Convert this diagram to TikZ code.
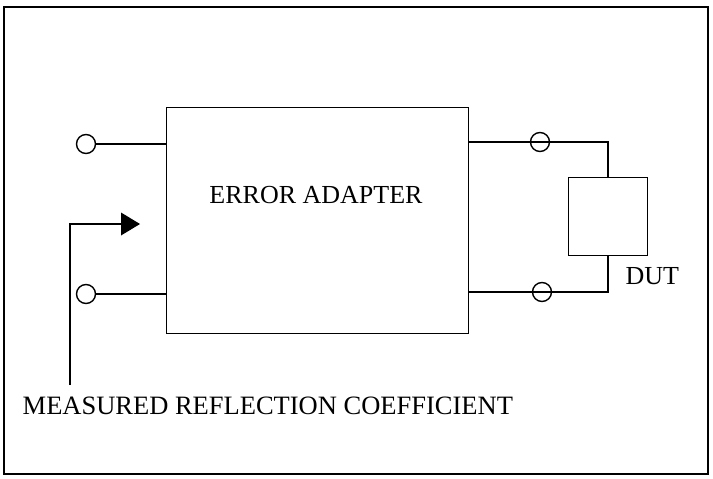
\documentclass[tikz,border=0pt]{standalone}
\usepackage{fontspec}
\setmainfont{Liberation Serif}
\usetikzlibrary{calc}
\begin{document}
\begin{tikzpicture}[x=1pt,y=-1pt,line width=1.4pt,
  term/.style={circle,draw,minimum size=19pt,inner sep=0pt},
  blk/.style={draw,inner sep=0pt,anchor=north west},
  lbl/.style={font=\fontsize{26}{30}\selectfont,inner sep=0pt,anchor=base west}]
\useasboundingbox (0,0) rectangle (713,479);
% outer frame
\draw[line width=2.6pt] (4,7) rectangle (708,474);
% error adapter block
\node[blk,minimum width=302pt,minimum height=226pt] (adapter) at (166,107) {};
\node[lbl,anchor=base] (adtext) at (316,203) {ERROR ADAPTER};
% input terminals
\node[term] (in1) at (86,144) {};
\node[term] (in2) at (86,294) {};
\draw (in1.east) -- (in1.east -| adapter.west);
\draw (in2.east) -- (in2.east -| adapter.west);
% device under test
\node[blk,minimum width=79pt,minimum height=78pt] (dut) at (568,177) {};
\node[lbl] (duttext) at (625,284) {DUT};
\coordinate (r1) at (608,142);
\coordinate (r2) at (608,292);
\draw (r1 -| adapter.east) -- (r1) -- (r1 |- dut.north);
\draw (r2 -| adapter.east) -- (r2) -- (r2 |- dut.south);
% output terminals on the wires
\node[term] (out1) at (540,142) {};
\node[term] (out2) at (542,292) {};
% measured reflection coefficient pointer
\coordinate (mtop) at (70,224);
\coordinate (mbot) at (70,385);
\coordinate (tip) at (140,224);
\draw (mbot) -- (mtop) -- (121,224);
\fill (tip) -- (121,212.5) -- (121,235.5) -- cycle;
\node[lbl,font=\fontsize{26.5}{30}\selectfont] (meas) at (22,414) {MEASURED REFLECTION COEFFICIENT};
\end{tikzpicture}
\end{document}
